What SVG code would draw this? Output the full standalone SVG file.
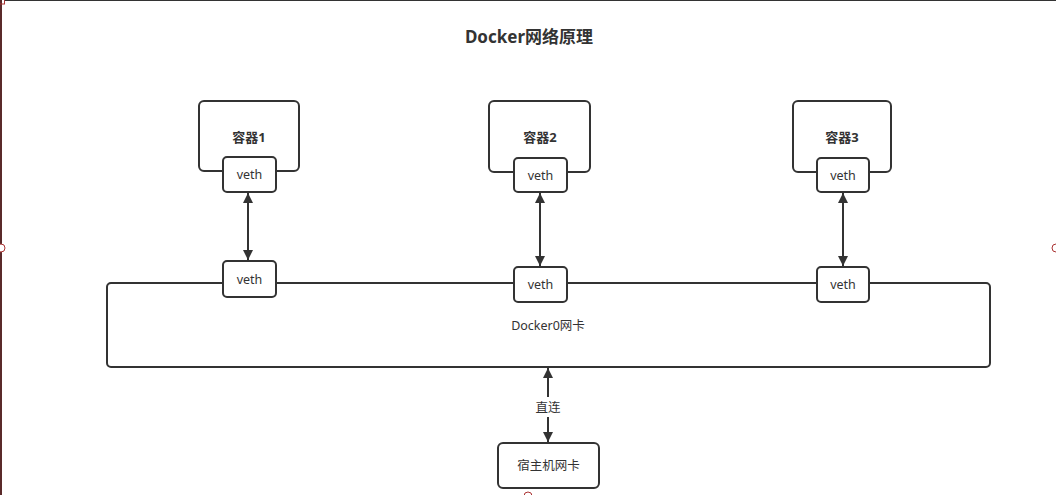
<svg xmlns="http://www.w3.org/2000/svg" width="1056" height="495" viewBox="0 0 1056 495">
<style>
.box{fill:#fff;stroke:#333;stroke-width:2}
.t{font-family:"Noto Sans","Noto Sans CJK SC",sans-serif;font-size:12.5px;fill:#333;text-anchor:middle}
.b{font-weight:bold;font-size:13px}
.c{stroke:#333;stroke-width:2;fill:none}
.h{fill:#fff;stroke:#a33;stroke-width:1}
</style>
<defs>
<marker id="ah" viewBox="0 0 10 10" refX="10" refY="5" markerWidth="6" markerHeight="5" orient="auto-start-reverse" markerUnits="strokeWidth">
<path d="M0,0 L10,5 L0,10 z" fill="#333"/>
</marker>
</defs>
<rect width="1056" height="495" fill="#fff"/>
<line x1="5" y1="0.5" x2="1056" y2="0.5" stroke="#333" stroke-width="1"/>
<line x1="1" y1="0" x2="1" y2="495" stroke="#5a2a2a" stroke-width="2"/>
<line x1="0" y1="4" x2="5" y2="4" stroke="#a33" stroke-width="1"/>
<line x1="4.5" y1="0" x2="4.5" y2="4" stroke="#a33" stroke-width="1"/>
<text x="529" y="43" class="t" style="font-size:17px;font-weight:bold">Docker网络原理</text>

<g id="docker0">
<rect class="box" x="107" y="283" width="883" height="84" rx="4"/>
<text x="548" y="330" class="t">Docker0网卡</text>
</g>
<g id="c1">
<rect class="box" x="199" y="101" width="100" height="70" rx="5"/>
<text x="249" y="142" class="t b">容器1</text>
<rect class="box" x="223" y="157" width="53" height="35" rx="4"/>
<text x="249.5" y="179" class="t">veth</text>
</g>
<g id="c2">
<rect class="box" x="489" y="101" width="101" height="71" rx="5"/>
<text x="540" y="142" class="t b">容器2</text>
<rect class="box" x="514" y="158" width="53" height="34" rx="4"/>
<text x="540.5" y="180" class="t">veth</text>
</g>
<g id="c3">
<rect class="box" x="793" y="101" width="98" height="71" rx="5"/>
<text x="842" y="142" class="t b">容器3</text>
<rect class="box" x="817" y="158" width="52" height="34" rx="4"/>
<text x="843" y="180" class="t">veth</text>
</g>
<g id="v1"><rect class="box" x="223" y="261" width="53" height="36" rx="4"/><text x="249.5" y="284" class="t">veth</text></g>
<g id="v2"><rect class="box" x="514" y="267" width="53" height="35" rx="4"/><text x="540.5" y="289" class="t">veth</text></g>
<g id="v3"><rect class="box" x="817" y="267" width="52" height="35" rx="4"/><text x="843" y="289" class="t">veth</text></g>
<g id="host">
<rect class="box" x="498" y="443" width="101" height="45" rx="5"/>
<text x="548.5" y="470" class="t">宿主机网卡</text>
</g>
<g id="connectors">
<line class="c" x1="248" y1="193" x2="248" y2="260" marker-start="url(#ah)" marker-end="url(#ah)"/>
<line class="c" x1="540" y1="193" x2="540" y2="266" marker-start="url(#ah)" marker-end="url(#ah)"/>
<line class="c" x1="843" y1="193" x2="843" y2="266" marker-start="url(#ah)" marker-end="url(#ah)"/>
<line class="c" x1="548" y1="368" x2="548" y2="397" marker-start="url(#ah)"/>
<line class="c" x1="548" y1="417" x2="548" y2="442" marker-end="url(#ah)"/>
<text x="548" y="412" class="t">直连</text>
</g>
<circle class="h" cx="1" cy="248" r="4"/>
<circle class="h" cx="1056" cy="248" r="4"/>
<circle class="h" cx="528" cy="496" r="4"/>
</svg>
